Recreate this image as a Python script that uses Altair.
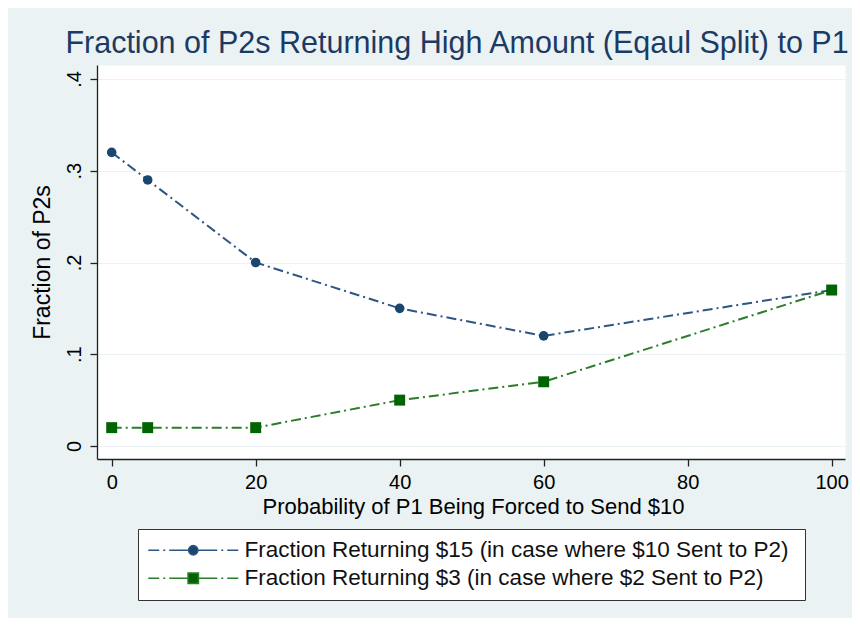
import altair as alt
import pandas as pd

# ---- data ----
prob_forced = [0, 5, 20, 40, 60, 100]
frac_return_15 = [0.32, 0.29, 0.20, 0.15, 0.12, 0.17]
frac_return_3 = [0.02, 0.02, 0.02, 0.05, 0.07, 0.17]
series_labels = [
    "Fraction Returning  $15 (in case where $10 Sent to P2)",
    "Fraction Returning $3 (in case where $2 Sent to P2)",
]
x_ticks = [0, 20, 40, 60, 80, 100]
y_ticks = [0, 0.1, 0.2, 0.3, 0.4]

marker_colors = ["#1a476f", "#006400"]
line_colors = ["#2d5682", "#2a7d2a"]
FONT = "Liberation Sans"

rows = []
for lab, vals in zip(series_labels, [frac_return_15, frac_return_3]):
    for xv, yv in zip(prob_forced, vals):
        rows.append({"prob": xv, "frac": yv, "series": lab})
df = pd.DataFrame(rows)

# legend symbols: dash-dot line with the marker in the middle
dash_part = "M-4.5,0H-3.4M-3.0,0H-2.8M-2.4,0H-0.45M0.45,0H2.4M2.8,0H3.0M3.4,0H4.5"
circle_sym = dash_part + "M-0.47,0A0.47,0.47,0,1,1,0.47,0A0.47,0.47,0,1,1,-0.47,0Z"
square_sym = dash_part + "M-0.52,-0.52H0.52V0.52H-0.52Z"

x_enc = alt.X(
    "prob:Q",
    scale=alt.Scale(domain=[-2.04, 101.85], nice=False, zero=False),
    axis=alt.Axis(
        values=x_ticks, title="Probability of P1 Being Forced to Send $10",
        grid=False, tickSize=7, labelPadding=6, labelFontSize=20,
        titleFontSize=22, titleX=376, titleY=47, titleBaseline="middle",
        titleAlign="center",
    ),
)
y_enc = alt.Y(
    "frac:Q",
    scale=alt.Scale(domain=[-0.01417, 0.41526], nice=False, zero=False),
    axis=alt.Axis(
        values=y_ticks, title="Fraction of P2s", grid=True,
        gridColor="#EAF2F3", tickSize=7, labelAngle=270, labelAlign="center",
        labelBaseline="bottom", labelPadding=6, labelFontSize=20,
        labelExpr="datum.value == 0 ? '0' : '.' + round(datum.value * 10)",
        titleFontSize=23, titleX=-55, titleY=197, titleBaseline="middle",
        titleAlign="center", titleAngle=270,
    ),
)

lines = alt.Chart(df).mark_line(strokeDash=[10, 4, 2, 4], strokeWidth=2).encode(
    x=x_enc,
    y=y_enc,
    color=alt.Color("series:N", scale=alt.Scale(domain=series_labels, range=line_colors), legend=None),
)

points = alt.Chart(df).mark_point(filled=True, opacity=1).encode(
    x="prob:Q",
    y="frac:Q",
    color=alt.Color("series:N", scale=alt.Scale(domain=series_labels, range=marker_colors), legend=None),
    shape=alt.Shape("series:N", scale=alt.Scale(domain=series_labels, range=["circle", "square"]), legend=None),
    size=alt.Size("series:N", scale=alt.Scale(domain=series_labels, range=[92, 120]), legend=None),
)

leg = alt.Legend(
    title=None, orient="none", legendX=41, legendY=464, direction="vertical",
    fillColor="white", strokeColor="#333333", padding=10,
    symbolSize=400, symbolStrokeWidth=1.5, symbolOpacity=1,
    symbolOffset=34, labelOffset=40, labelFontSize=22.5, labelFont=FONT,
    labelColor="#111111", labelLimit=800, rowPadding=5,
)

legend_layer = alt.Chart(df).mark_point(filled=True, opacity=0).encode(
    x="prob:Q",
    y="frac:Q",
    fill=alt.Fill("series:N", scale=alt.Scale(domain=series_labels, range=marker_colors), legend=leg),
    stroke=alt.Stroke("series:N", scale=alt.Scale(domain=series_labels, range=line_colors), legend=leg),
    shape=alt.Shape("series:N", scale=alt.Scale(domain=series_labels, range=[circle_sym, square_sym]), legend=leg),
)

chart = (
    alt.layer(lines, points, legend_layer)
    .resolve_scale(color="independent", fill="independent", stroke="independent",
                   shape="independent", size="independent")
    .properties(
        width=748, height=394,
        background="#EAF2F3",
        padding={"left": 89, "top": 57, "right": 7, "bottom": 159},
        autosize=alt.AutoSizeParams(type="none"),
        title=alt.TitleParams(
            text="Fraction of P2s Returning High Amount (Eqaul Split) to P1",
            fontSize=30.5, font=FONT, fontWeight="normal", color="#1c3a63",
            anchor="middle", dx=-14, dy=31, offset=13, baseline="alphabetic",
        ),
    )
    .configure_view(fill="white", stroke="transparent")
    .configure_axis(
        labelFont=FONT, titleFont=FONT, labelColor="#000000", titleColor="#000000",
        titleFontWeight="normal", domainColor="#222222", tickColor="#222222",
        domainWidth=1.3, tickWidth=1.3,
    )
)

chart.save("out.html", embed_options={"renderer": "svg", "actions": False})
